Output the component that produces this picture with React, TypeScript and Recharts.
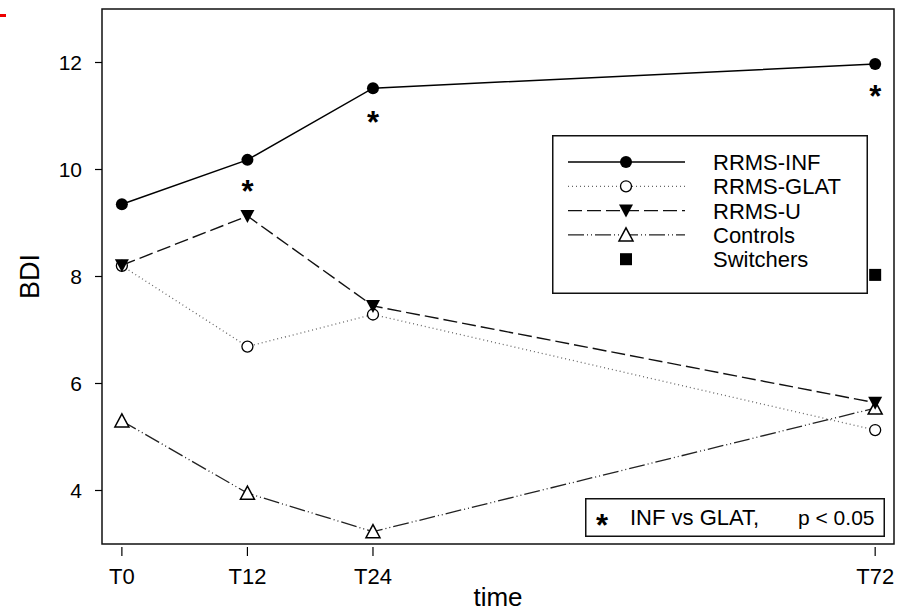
import React from 'react';
import {
  ComposedChart,
  Line,
  Scatter,
  XAxis,
  YAxis,
  ReferenceArea,
  Legend,
} from 'recharts';

const FONT = '"Liberation Sans", Arial, Helvetica, sans-serif';

// time points (months) and their labels
const times = [0, 12, 24, 72];
const timeLabels = ['T0', 'T12', 'T24', 'T72'];

// BDI means per group
const rrmsInf = [9.35, 10.18, 11.52, 11.97];
const rrmsGlat = [8.2, 6.69, 7.29, 5.13];
const rrmsU = [8.21, 9.13, 7.45, 5.64];
const controls = [5.3, 3.95, 3.23, 5.54];
const switchers = [{ t: 72, v: 8.03 }];

// significance stars (INF vs GLAT)
const starTimes = [12, 24, 72];
const starLevels = [9.71, 11.0, 11.49];

const yTicks = [4, 6, 8, 10, 12];
const xDomain: [number, number] = [-1.9, 73.8];
const yDomain: [number, number] = [3, 13];

const rows = times.map((t, i) => ({
  t,
  inf: rrmsInf[i],
  glat: rrmsGlat[i],
  u: rrmsU[i],
  ctrl: controls[i],
}));
const stars = starTimes.map((t, i) => ({ t, v: starLevels[i] }));

const LINE_STYLES = {
  inf: { stroke: '#000', dash: undefined as string | undefined, width: 1.5 },
  glat: { stroke: '#666', dash: '1 3', width: 1.3 },
  u: { stroke: '#111', dash: '14 5', width: 1.4 },
  ctrl: { stroke: '#222', dash: '16 3 1 3 1 3', width: 1.3 },
};

type Shape = 'filled' | 'open' | 'down' | 'up' | 'square';

function marker(shape: Shape, cx: number, cy: number, key?: React.Key) {
  switch (shape) {
    case 'filled':
      return <circle key={key} cx={cx} cy={cy} r={6} fill="#000" />;
    case 'open':
      return <circle key={key} cx={cx} cy={cy} r={5.5} fill="#fff" stroke="#000" strokeWidth={1.3} />;
    case 'down':
      return (
        <polygon
          key={key}
          points={`${cx - 7},${cy - 6} ${cx + 7},${cy - 6} ${cx},${cy + 7}`}
          fill="#000"
        />
      );
    case 'up':
      return (
        <polygon
          key={key}
          points={`${cx - 7},${cy + 6} ${cx + 7},${cy + 6} ${cx},${cy - 7}`}
          fill="#fff"
          stroke="#000"
          strokeWidth={1.5}
        />
      );
    default:
      return <rect key={key} x={cx - 6} y={cy - 6} width={12} height={12} fill="#000" />;
  }
}

const dotOf = (shape: Shape) => (p: any) => marker(shape, p.cx, p.cy, p.key ?? p.index);

const KEY_ROWS: { name: string; style?: keyof typeof LINE_STYLES; shape: Shape }[] = [
  { name: 'RRMS-INF', style: 'inf', shape: 'filled' },
  { name: 'RRMS-GLAT', style: 'glat', shape: 'open' },
  { name: 'RRMS-U', style: 'u', shape: 'down' },
  { name: 'Controls', style: 'ctrl', shape: 'up' },
  { name: 'Switchers', shape: 'square' },
];

function KeyBox() {
  return (
    <svg width={316} height={159} style={{ display: 'block' }}>
      <rect x={0.75} y={0.75} width={314.5} height={157.5} fill="#fff" stroke="#111" strokeWidth={1.5} />
      {KEY_ROWS.map((r, i) => {
        const cy = 27 + i * 24.3;
        const st = r.style ? LINE_STYLES[r.style] : null;
        return (
          <g key={r.name}>
            {st && (
              <line
                x1={16}
                x2={133}
                y1={cy}
                y2={cy}
                stroke={st.stroke}
                strokeWidth={st.width}
                strokeDasharray={st.dash}
              />
            )}
            {marker(r.shape, 74, cy)}
            <text x={161} y={cy} dy="0.36em" fontSize={22} fontFamily={FONT} fill="#000">
              {r.name}
            </text>
          </g>
        );
      })}
    </svg>
  );
}

function TimeTick(props: any) {
  const { x, y, payload } = props;
  const idx = times.indexOf(payload.value);
  return (
    <g>
      <line x1={x} x2={x} y1={y - 9} y2={y} stroke="#000" strokeWidth={1.2} />
      <text x={x} y={y + 28} textAnchor="middle" fontSize={22} fontFamily={FONT} fill="#000">
        {idx >= 0 ? timeLabels[idx] : ''}
      </text>
    </g>
  );
}

function StarMark(props: any) {
  return (
    <text
      x={props.cx}
      y={props.cy + 17}
      textAnchor="middle"
      fontSize={31}
      fontWeight="bold"
      fontFamily={FONT}
      fill="#000"
    >
      *
    </text>
  );
}

export default function App() {
  return (
    <div
      style={{
        position: 'absolute',
        left: 0,
        top: 0,
        width: 904,
        height: 613,
        background: '#fff',
        fontFamily: FONT,
        overflow: 'hidden',
      }}
    >
      <div style={{ position: 'absolute', left: 0, top: 14, width: 6, height: 3, background: '#e00' }} />
      <ComposedChart
        width={904}
        height={613}
        data={rows}
        margin={{ top: 9, right: 10, bottom: 0, left: 0 }}
      >
        <XAxis
          dataKey="t"
          type="number"
          domain={xDomain}
          ticks={times}
          allowDataOverflow
          axisLine={false}
          tickLine={false}
          tickSize={12}
          tickMargin={0}
          height={69}
          tick={<TimeTick />}
          label={{
            content: (p: any) => {
              const vb = p.viewBox || { x: 102, y: 544, width: 792, height: 69 };
              return (
                <text
                  x={vb.x + vb.width / 2}
                  y={vb.y + 62}
                  textAnchor="middle"
                  fontSize={26}
                  fontFamily={FONT}
                  fill="#000"
                >
                  time
                </text>
              );
            },
          }}
        />
        <YAxis
          type="number"
          domain={yDomain}
          ticks={yTicks}
          allowDataOverflow
          width={102}
          axisLine={false}
          tickSize={7}
          tickMargin={13}
          tickLine={{ stroke: '#000', strokeWidth: 1.2 }}
          tick={{ fontSize: 21, fill: '#000', fontFamily: FONT }}
          label={{
            content: (p: any) => {
              const vb = p.viewBox || { x: 0, y: 9, width: 102, height: 535 };
              const cx = vb.x + 29;
              const cy = vb.y + vb.height / 2;
              return (
                <text
                  x={cx}
                  y={cy}
                  transform={`rotate(-90 ${cx} ${cy})`}
                  textAnchor="middle"
                  dy="0.36em"
                  fontSize={27}
                  fontFamily={FONT}
                  fill="#000"
                >
                  BDI
                </text>
              );
            },
          }}
        />
        <ReferenceArea
          x1={xDomain[0]}
          x2={xDomain[1]}
          y1={yDomain[0]}
          y2={yDomain[1]}
          fill="none"
          stroke="#111"
          strokeWidth={1.5}
          ifOverflow="visible"
        />
        <Line
          dataKey="glat"
          stroke={LINE_STYLES.glat.stroke}
          strokeWidth={LINE_STYLES.glat.width}
          strokeDasharray={LINE_STYLES.glat.dash}
          dot={dotOf('open')}
          activeDot={false}
          isAnimationActive={false}
        />
        <Line
          dataKey="ctrl"
          stroke={LINE_STYLES.ctrl.stroke}
          strokeWidth={LINE_STYLES.ctrl.width}
          strokeDasharray={LINE_STYLES.ctrl.dash}
          dot={dotOf('up')}
          activeDot={false}
          isAnimationActive={false}
        />
        <Line
          dataKey="u"
          stroke={LINE_STYLES.u.stroke}
          strokeWidth={LINE_STYLES.u.width}
          strokeDasharray={LINE_STYLES.u.dash}
          dot={dotOf('down')}
          activeDot={false}
          isAnimationActive={false}
        />
        <Line
          dataKey="inf"
          stroke={LINE_STYLES.inf.stroke}
          strokeWidth={LINE_STYLES.inf.width}
          dot={dotOf('filled')}
          activeDot={false}
          isAnimationActive={false}
        />
        <Scatter
          data={switchers}
          dataKey="v"
          shape={(p: any) => marker('square', p.cx, p.cy)}
          isAnimationActive={false}
        />
        <Scatter data={stars} dataKey="v" shape={<StarMark />} isAnimationActive={false} />
        <Legend
          layout="vertical"
          align="center"
          verticalAlign="middle"
          wrapperStyle={{ left: 552, top: 135, width: 316, height: 159 }}
          content={() => <KeyBox />}
        />
      </ComposedChart>
      <svg
        width={300}
        height={60}
        style={{ position: 'absolute', left: 585, top: 498, display: 'block', overflow: 'visible' }}
      >
        <rect x={0.75} y={0.75} width={298.5} height={37.5} fill="#fff" stroke="#111" strokeWidth={1.5} />
        <text x={17} y={38} textAnchor="middle" fontSize={31} fontWeight="bold" fontFamily={FONT} fill="#000">
          *
        </text>
        <text x={45} y={19} dy="0.36em" fontSize={22} fontFamily={FONT} fill="#000">
          INF vs GLAT,
        </text>
        <text x={213} y={19} dy="0.36em" fontSize={21} fontFamily={FONT} fill="#000">
          p &lt; 0.05
        </text>
      </svg>
    </div>
  );
}
